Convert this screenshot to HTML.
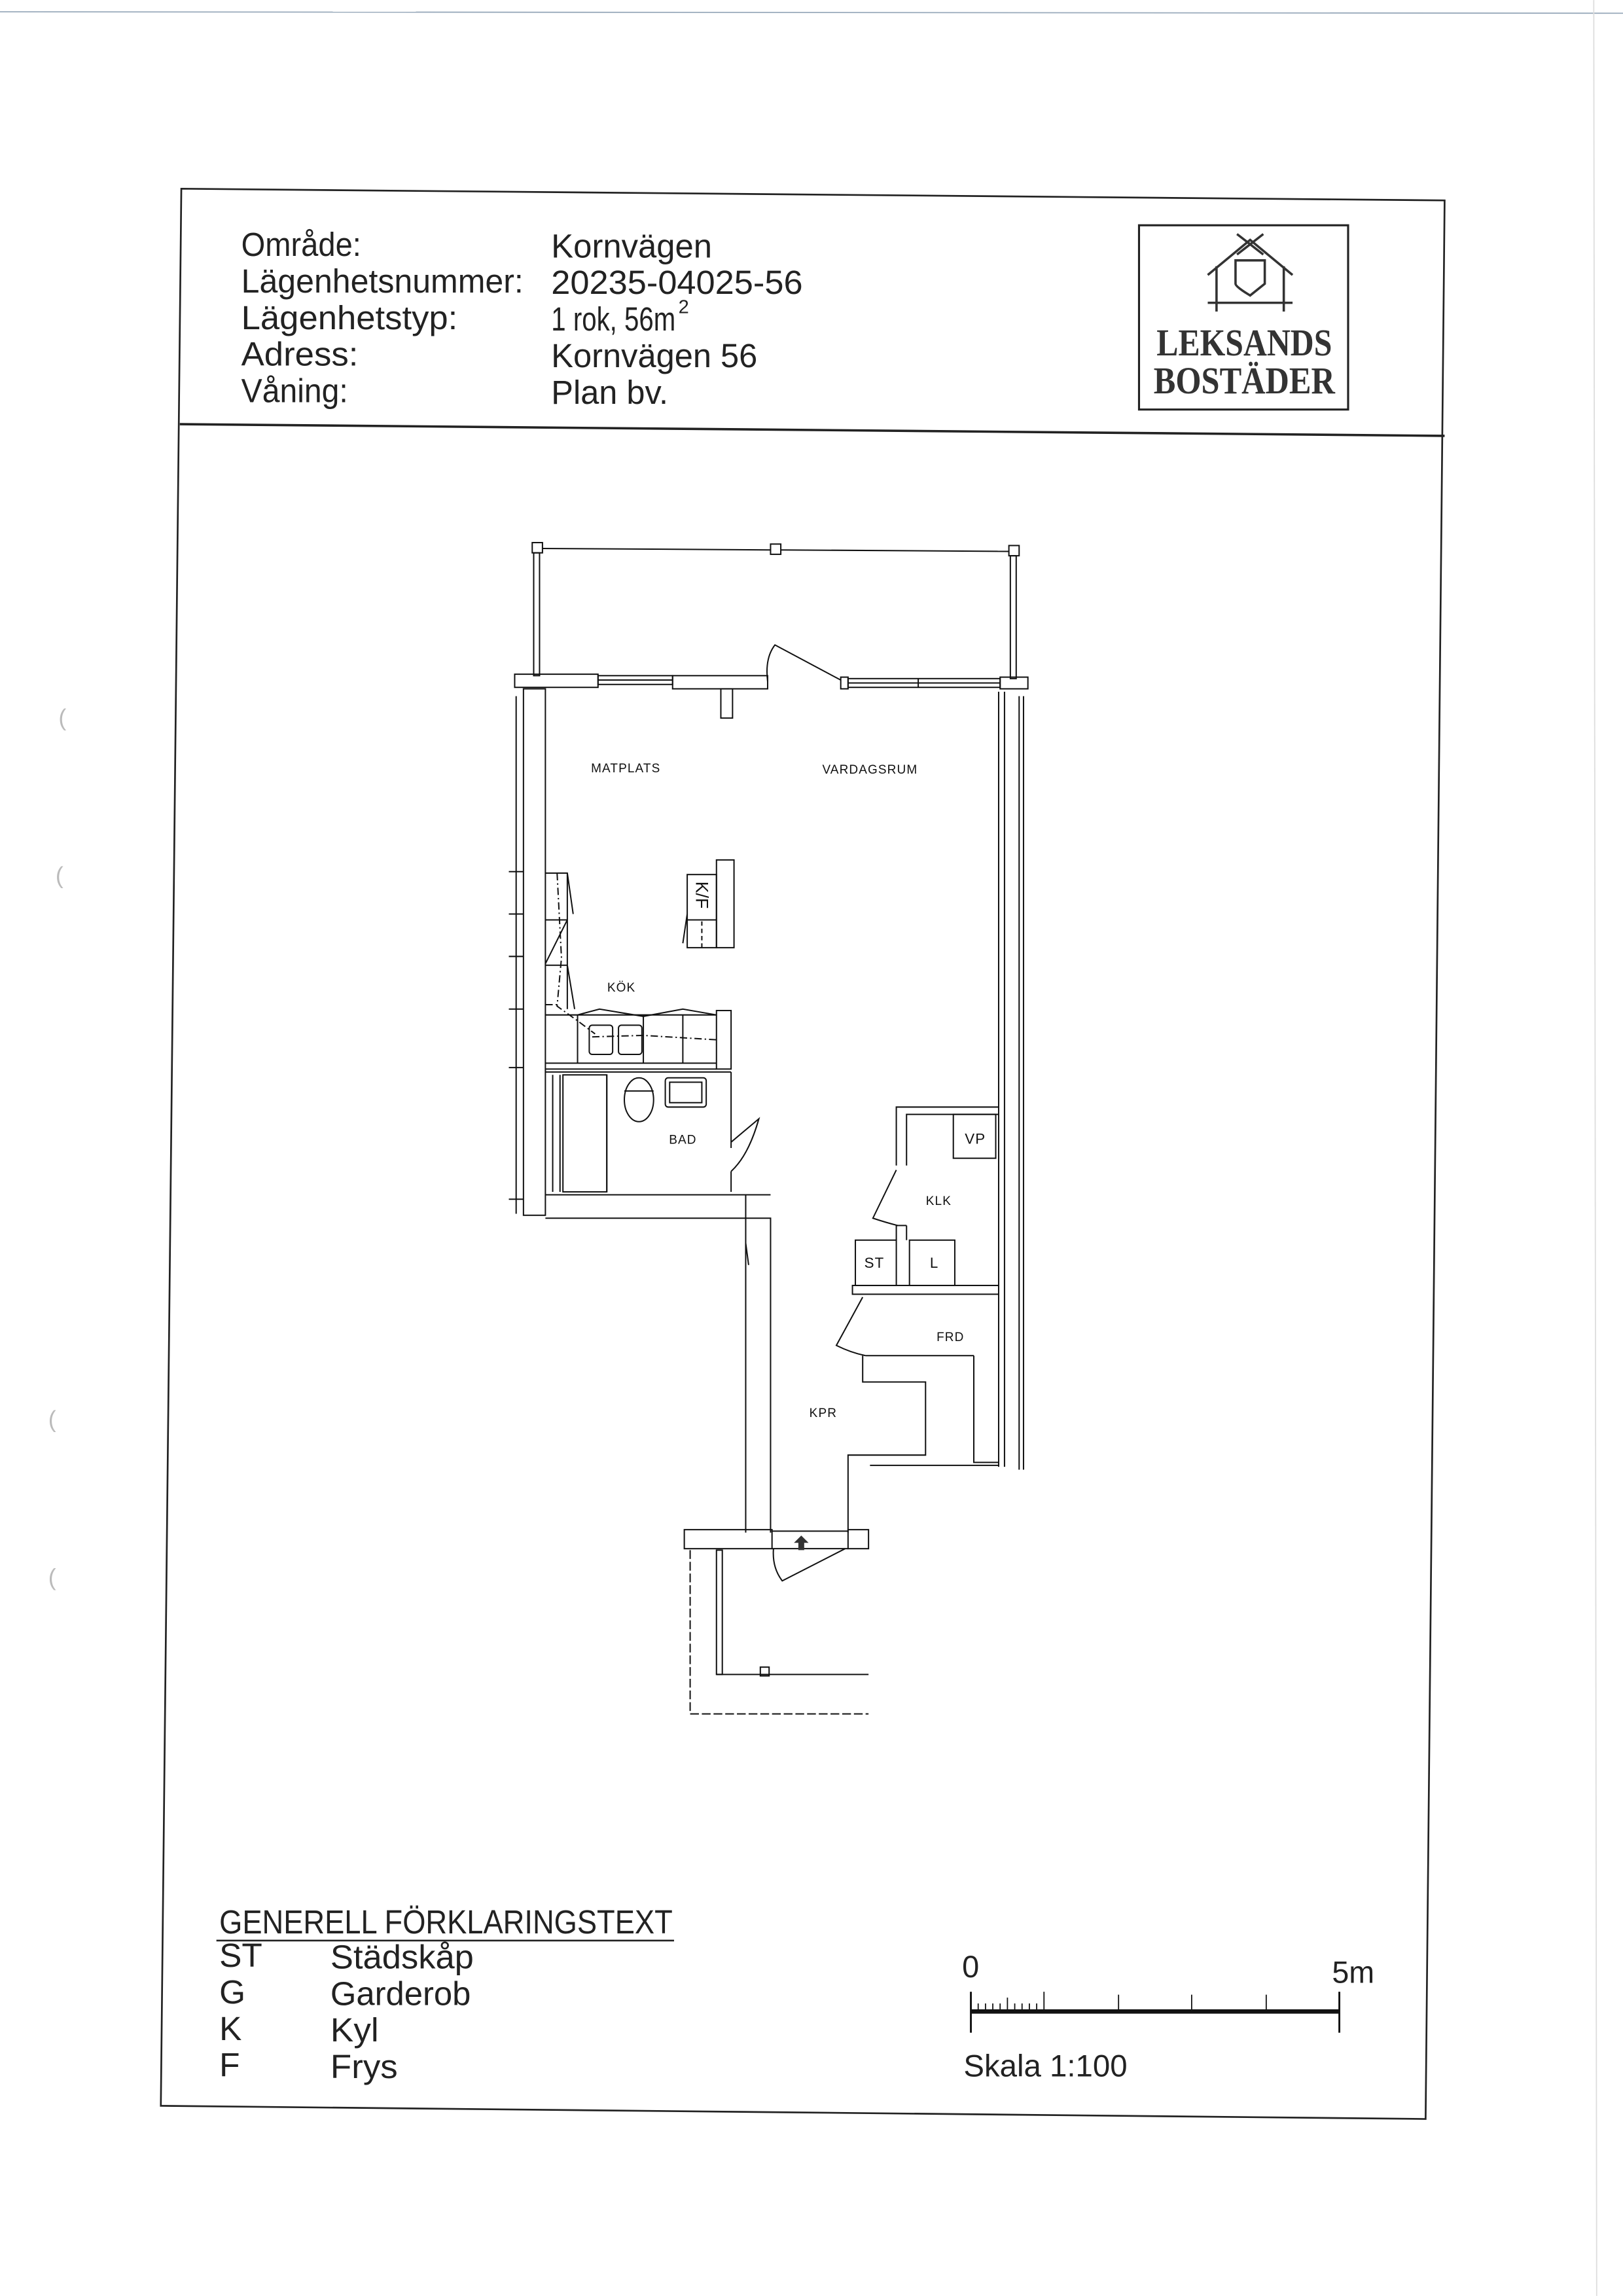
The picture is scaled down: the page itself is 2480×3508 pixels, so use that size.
<!DOCTYPE html>
<html><head><meta charset="utf-8"><style>html,body{margin:0;padding:0;background:#fff}svg{display:block}</style></head>
<body>
<svg xmlns="http://www.w3.org/2000/svg" width="2480" height="3508" viewBox="0 0 1110 1570" font-family="Liberation Sans, DejaVu Sans, sans-serif">
<rect width="1110" height="1570" fill="#fff"/>
<line x1="0" y1="8" x2="1110" y2="9" stroke="#9ab" stroke-width="0.8"/>
<line x1="1090" y1="0" x2="1092" y2="1570" stroke="#ddd" stroke-width="0.8"/>
<g fill="#bbb" font-size="16"><text x="40" y="496">(</text><text x="38" y="604">(</text><text x="33" y="976">(</text><text x="33" y="1084">(</text></g>
<polygon points="124,129 988,137 975,1449 110,1440" fill="none" stroke="#222" stroke-width="1.2"/>
<line x1="123" y1="290" x2="988" y2="298" stroke="#222" stroke-width="1.6"/>
<g font-size="23" fill="#222">
<text x="165" y="175" textLength="82" lengthAdjust="spacingAndGlyphs">Område:</text>
<text x="165" y="200" textLength="193" lengthAdjust="spacingAndGlyphs">Lägenhetsnummer:</text>
<text x="165" y="225" textLength="148" lengthAdjust="spacingAndGlyphs">Lägenhetstyp:</text>
<text x="165" y="250" textLength="80" lengthAdjust="spacingAndGlyphs">Adress:</text>
<text x="165" y="275" textLength="73" lengthAdjust="spacingAndGlyphs">Våning:</text>
<text x="377" y="176" textLength="110" lengthAdjust="spacingAndGlyphs">Kornvägen</text>
<text x="377" y="201" textLength="172" lengthAdjust="spacingAndGlyphs">20235-04025-56</text>
<text x="377" y="226" textLength="85" lengthAdjust="spacingAndGlyphs">1 rok, 56m</text>
<text x="464" y="214" font-size="13">2</text>
<text x="377" y="251" textLength="141" lengthAdjust="spacingAndGlyphs">Kornvägen 56</text>
<text x="377" y="276" textLength="80" lengthAdjust="spacingAndGlyphs">Plan bv.</text>
</g>
<rect x="779" y="154" width="143" height="126" fill="none" stroke="#222" stroke-width="1.4"/>
<g stroke="#333" stroke-width="1.6" fill="none">
<polyline points="826,188 855,164 884,188"/><line x1="846" y1="160" x2="864" y2="174"/><line x1="864" y1="160" x2="846" y2="174"/>
<line x1="832" y1="182" x2="832" y2="213"/><line x1="878" y1="182" x2="878" y2="213"/>
<line x1="826" y1="207" x2="884" y2="207"/>
<path d="M845,178 h20 v16 q-10,8 -10,8 q-10,-6 -10,-8 z"/>
</g>
<g font-family="Liberation Serif, serif" fill="#333" font-size="26" text-anchor="middle" font-weight="bold">
<text x="851" y="243" textLength="120" lengthAdjust="spacingAndGlyphs">LEKSANDS</text>
<text x="851" y="269" textLength="124" lengthAdjust="spacingAndGlyphs">BOSTÄDER</text>
</g>
<g stroke="#111" stroke-width="0.9" fill="none">
<line x1="370" y1="375" x2="527" y2="376"/><line x1="534" y1="376" x2="690" y2="377"/>
<rect x="364" y="371" width="7" height="7" fill="#fff"/><rect x="527" y="372" width="7" height="7" fill="#fff"/><rect x="690" y="373" width="7" height="7" fill="#fff"/>
<rect x="365" y="378" width="4" height="84"/><rect x="691" y="380" width="4" height="84"/>
<rect x="352" y="461" width="57" height="9"/><rect x="409" y="462" width="51" height="6"/>
<line x1="409" y1="465" x2="460" y2="465"/>
<rect x="460" y="462" width="65" height="9"/>
<rect x="575" y="463" width="5" height="8"/>
<rect x="580" y="464" width="104" height="6"/><line x1="580" y1="467" x2="684" y2="467"/><line x1="628" y1="464" x2="628" y2="470"/>
<rect x="684" y="463" width="19" height="8"/>
<path d="M575,465 L530,441 Q523,450 525,466"/>
<rect x="493" y="471" width="8" height="20"/>
<rect x="358" y="471" width="15" height="360"/>
<line x1="353" y1="476" x2="353" y2="830"/>
<line x1="348" y1="596" x2="358" y2="596"/><line x1="348" y1="625" x2="358" y2="625"/><line x1="348" y1="654" x2="358" y2="654"/><line x1="348" y1="690" x2="358" y2="690"/><line x1="348" y1="730" x2="358" y2="730"/><line x1="348" y1="820" x2="358" y2="820"/>
<line x1="683" y1="473" x2="683" y2="1003"/><line x1="687" y1="473" x2="687" y2="1003"/>
<line x1="697" y1="476" x2="697" y2="1005"/><line x1="700" y1="476" x2="700" y2="1005"/>
<polyline points="373,597 388,597 392,625"/><line x1="373" y1="629" x2="388" y2="629"/><line x1="373" y1="659" x2="388" y2="629"/>
<line x1="373" y1="660" x2="388" y2="660"/><line x1="388" y1="597" x2="388" y2="690"/><line x1="388" y1="660" x2="393" y2="690"/>
<path d="M381,597 L384,655 L381,688 L395,698 L407,707 M373,687 L381,687" stroke-dasharray="5,2,1,2"/>
<rect x="490" y="588" width="12" height="60"/><rect x="470" y="598" width="20" height="50"/><line x1="470" y1="629" x2="490" y2="629"/>
<line x1="480" y1="630" x2="480" y2="648" stroke-dasharray="3,2"/><line x1="470" y1="625" x2="467" y2="645"/>
<line x1="373" y1="694" x2="490" y2="694"/><line x1="373" y1="727" x2="490" y2="727"/><line x1="373" y1="731" x2="490" y2="731"/>
<line x1="395" y1="694" x2="395" y2="727"/><line x1="440" y1="694" x2="440" y2="727"/><line x1="467" y1="694" x2="467" y2="727"/>
<polyline points="395,694 410,690 440,695 467,690 490,694"/>
<rect x="403" y="701" width="16" height="20" rx="2"/><rect x="423" y="701" width="16" height="20" rx="2"/>
<path d="M405,709 L440,708 L490,711" stroke-dasharray="5,2,1,2"/>
<rect x="490" y="691" width="10" height="40"/>
<line x1="373" y1="733" x2="500" y2="733"/><line x1="383" y1="735" x2="383" y2="815"/><line x1="378" y1="735" x2="378" y2="815"/>
<rect x="385" y="735" width="30" height="80"/><line x1="415" y1="735" x2="415" y2="815"/>
<ellipse cx="437" cy="752" rx="10" ry="15"/><line x1="427" y1="746" x2="447" y2="746"/>
<rect x="455" y="737" width="28" height="20" rx="2"/><rect x="458" y="740" width="22" height="14"/>
<line x1="500" y1="733" x2="500" y2="785"/><line x1="500" y1="801" x2="500" y2="815"/>
<path d="M500,781 L519,765 Q512,790 500,801"/>
<polyline points="373,817 510,817 510,1048"/><polyline points="373,833 527,833 527,1048"/>
<line x1="510" y1="817" x2="527" y2="817"/>
<line x1="510" y1="850" x2="512" y2="865"/>
<polyline points="683,757 613,757 613,797"/><polyline points="683,762 620,762 620,797"/>
<rect x="652" y="762" width="29" height="30"/>
<path d="M613,800 L597,833 Q606,836 614,838"/>
<line x1="613" y1="838" x2="620" y2="838"/><line x1="613" y1="838" x2="613" y2="848"/><line x1="620" y1="838" x2="620" y2="848"/>
<rect x="585" y="848" width="28" height="31"/><rect x="622" y="848" width="31" height="31"/>
<rect x="583" y="879" width="100" height="6"/>
<path d="M590,887 L572,920 Q582,925 592,927"/>
<polyline points="590,927 590,945 633,945 633,995 580,995 580,1048"/>
<polyline points="666,927 592,927"/><polyline points="666,927 666,1000 683,1000"/>
<line x1="595" y1="1002" x2="683" y2="1002"/>
<rect x="468" y="1046" width="60" height="13"/><line x1="528" y1="1047" x2="580" y2="1047"/><line x1="528" y1="1059" x2="580" y2="1059"/>
<rect x="580" y="1046" width="14" height="13"/>
<path d="M578,1059 L535,1081 Q528,1072 529,1059"/>
<polyline points="472,1060 472,1172 594,1172" stroke-dasharray="6,2"/>
<rect x="490" y="1060" width="4" height="85"/><line x1="490" y1="1145" x2="594" y2="1145"/>
<rect x="520" y="1140" width="6" height="6"/>
</g>
<path d="M548,1050 l-5,5 h3 v5 h4 v-5 h3 z" fill="#333"/>
<g font-size="8.5" fill="#111" text-anchor="middle" letter-spacing="0.5">
<text x="428" y="528">MATPLATS</text><text x="595" y="529">VARDAGSRUM</text>
<text x="425" y="678">KÖK</text><text x="467" y="782">BAD</text>
<text x="642" y="824">KLK</text><text x="650" y="917">FRD</text><text x="563" y="969">KPR</text>
<text x="667" y="782" font-size="10">VP</text><text x="598" y="867" font-size="10">ST</text><text x="639" y="867" font-size="10">L</text>
</g>
<text x="612" y="-476" font-size="12" fill="#111" transform="rotate(90)" text-anchor="middle">K/F</text>
<g font-size="23" fill="#222">
<text x="150" y="1322" textLength="310" lengthAdjust="spacingAndGlyphs">GENERELL FÖRKLARINGSTEXT</text>
<line x1="148" y1="1327" x2="461" y2="1327" stroke="#222" stroke-width="1.2"/>
<text x="150" y="1345">ST</text><text x="226" y="1346" textLength="98" lengthAdjust="spacingAndGlyphs">Städskåp</text>
<text x="150" y="1370">G</text><text x="226" y="1371" textLength="96" lengthAdjust="spacingAndGlyphs">Garderob</text>
<text x="150" y="1395">K</text><text x="226" y="1396" textLength="33" lengthAdjust="spacingAndGlyphs">Kyl</text>
<text x="150" y="1420">F</text><text x="226" y="1421" textLength="46" lengthAdjust="spacingAndGlyphs">Frys</text>
<text x="658" y="1352" font-size="21">0</text>
<text x="911" y="1356" font-size="21" textLength="29" lengthAdjust="spacingAndGlyphs">5m</text>
<text x="659" y="1420" font-size="21" textLength="112" lengthAdjust="spacingAndGlyphs">Skala 1:100</text>
</g>
<g stroke="#111">
<line x1="664" y1="1375.5" x2="916" y2="1375.5" stroke-width="3"/>
<line x1="664" y1="1362" x2="664" y2="1390" stroke-width="1.3"/><line x1="916" y1="1362" x2="916" y2="1390" stroke-width="1.3"/>
<g stroke-width="0.8">
<line x1="669" y1="1370" x2="669" y2="1375"/><line x1="674" y1="1370" x2="674" y2="1375"/><line x1="679" y1="1370" x2="679" y2="1375"/><line x1="684" y1="1370" x2="684" y2="1375"/><line x1="689" y1="1366" x2="689" y2="1375"/><line x1="694" y1="1370" x2="694" y2="1375"/><line x1="699" y1="1370" x2="699" y2="1375"/><line x1="704" y1="1370" x2="704" y2="1375"/><line x1="709" y1="1370" x2="709" y2="1375"/>
<line x1="714" y1="1362" x2="714" y2="1375"/><line x1="765" y1="1364" x2="765" y2="1375"/><line x1="815" y1="1364" x2="815" y2="1375"/><line x1="866" y1="1364" x2="866" y2="1375"/>
</g></g>
</svg>
</body></html>
